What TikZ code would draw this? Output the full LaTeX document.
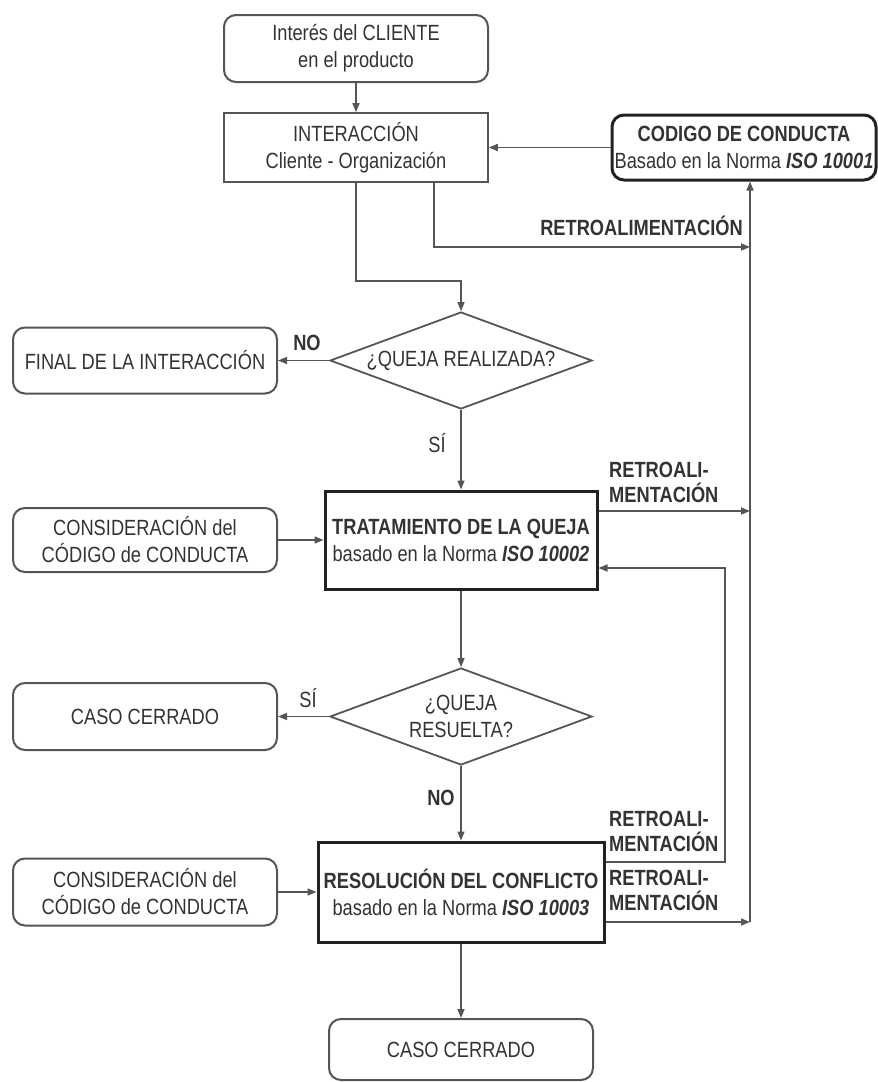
\documentclass[tikz,border=0pt]{standalone}
\usepackage{fontspec}
\setmainfont{Liberation Sans}[FakeStretch=0.83]
\usetikzlibrary{arrows.meta,shapes.geometric}
\definecolor{txt}{HTML}{333333}
\definecolor{ln}{HTML}{555555}
\definecolor{thk}{HTML}{222222}
\tikzset{
  base/.style={font=\fontsize{22}{27}\selectfont, text=txt, align=center, inner sep=0pt},
  rbox/.style={base, draw=ln, line width=2pt, rounded corners=12pt, minimum width=264pt},
  sbox/.style={base, draw=ln, line width=1.6pt, minimum width=264pt},
  tbox/.style={base, draw=thk, line width=3pt},
  dia/.style={base, draw=ln, line width=1.8pt, diamond, shape aspect=2.7, minimum width=262pt, minimum height=97pt},
  lbl/.style={font=\fontsize{22}{25}\selectfont, text=txt, inner sep=0pt, align=left},
  arr/.style={draw=ln, line width=1.5pt, -{Triangle[length=9pt,width=7pt]}},
}
\begin{document}
\begin{tikzpicture}[x=1pt,y=-1pt]
\path[use as bounding box] (0,0) rectangle (878,1082);
% nodes
\node[rbox, minimum height=67pt] (top) at (356,48.5) {Interés del CLIENTE\\en el producto};
\node[sbox, minimum height=69pt] (inter) at (356,147.5) {INTERACCIÓN\\Cliente - Organización};
\node[base, draw=thk, line width=3pt, rounded corners=12pt, minimum width=264pt, minimum height=65pt] (codigo) at (744,147.5) {\textbf{CODIGO DE CONDUCTA}\\Basado en la Norma \textbf{\textit{ISO 10001}}};
\node[dia] (d1) at (461,360.5) {¿QUEJA REALIZADA?};
\node[rbox, minimum height=66pt] (final) at (145,360.5) {FINAL DE LA INTERACCIÓN};
\node[tbox, minimum width=272pt, minimum height=98pt] (trat) at (461,540) {\textbf{TRATAMIENTO DE LA QUEJA}\\basado en la Norma \textbf{\textit{ISO 10002}}};
\node[rbox, minimum height=64pt] (cons1) at (145,540) {CONSIDERACIÓN del\\CÓDIGO de CONDUCTA};
\node[dia] (d2) at (461,716.5) {¿QUEJA\\RESUELTA?};
\node[rbox, minimum height=67pt] (caso1) at (145,716.5) {CASO CERRADO};
\node[tbox, minimum width=286pt, minimum height=100pt] (res) at (461,892) {\textbf{RESOLUCIÓN DEL CONFLICTO}\\basado en la Norma \textbf{\textit{ISO 10003}}};
\node[rbox, minimum height=67pt] (cons2) at (145,892) {CONSIDERACIÓN del\\CÓDIGO de CONDUCTA};
\node[rbox, minimum height=61pt] (caso2) at (461,1049.5) {CASO CERRADO};
% labels
\node[lbl, anchor=east, font=\fontsize{22}{25}\selectfont\bfseries] (lretro) at (743,226) {RETROALIMENTACIÓN};
\node[lbl, font=\fontsize{22}{25}\selectfont\bfseries] (lno1) at (307,343) {NO};
\node[lbl] (lsi1) at (437,443) {SÍ};
\node[lbl] (lsi2) at (308,698) {SÍ};
\node[lbl, font=\fontsize{22}{25}\selectfont\bfseries] (lno2) at (441,798) {NO};
\node[lbl, anchor=west, font=\fontsize{22}{25}\selectfont\bfseries] (lr1) at (609,482.5) {RETROALI-\\MENTACIÓN};
\node[lbl, anchor=west, font=\fontsize{22}{25}\selectfont\bfseries] (lr2) at (609,831.5) {RETROALI-\\MENTACIÓN};
\node[lbl, anchor=west, font=\fontsize{22}{25}\selectfont\bfseries] (lr3) at (609,890.5) {RETROALI-\\MENTACIÓN};
% coordinates
\coordinate (spine) at (750,922);
\coordinate (fb1) at (750,247);
\coordinate (retx) at (725,568);
% connectors
\draw[arr] (top) -- (inter);
\draw[arr] (codigo.west) -- (inter.east);
\draw[arr] (inter.south) -- ++(0,98) -| (d1.north);
\draw[arr] ([xshift=78pt]inter.south) |- (fb1);
\draw[arr] (spine) -- (spine |- codigo.south);
\draw[arr] (d1.west) -- (final.east);
\draw[arr] (d1.south) -- (trat.north);
\draw[arr] (cons1.east) -- (trat.west);
\draw[arr] ([yshift=29pt]trat.east) -- ([yshift=29pt]trat.east -| spine);
\draw[arr] ([yshift=30pt]res.east) -| (retx) -- ([yshift=-28pt]trat.east);
\draw[arr] (trat.south) -- (d2.north);
\draw[arr] (d2.west) -- (caso1.east);
\draw[arr] (d2.south) -- (res.north);
\draw[arr] (cons2.east) -- (res.west);
\draw[arr] ([yshift=-30pt]res.east) -- (spine);
\draw[arr] (res.south) -- (caso2.north);
\end{tikzpicture}
\end{document}
